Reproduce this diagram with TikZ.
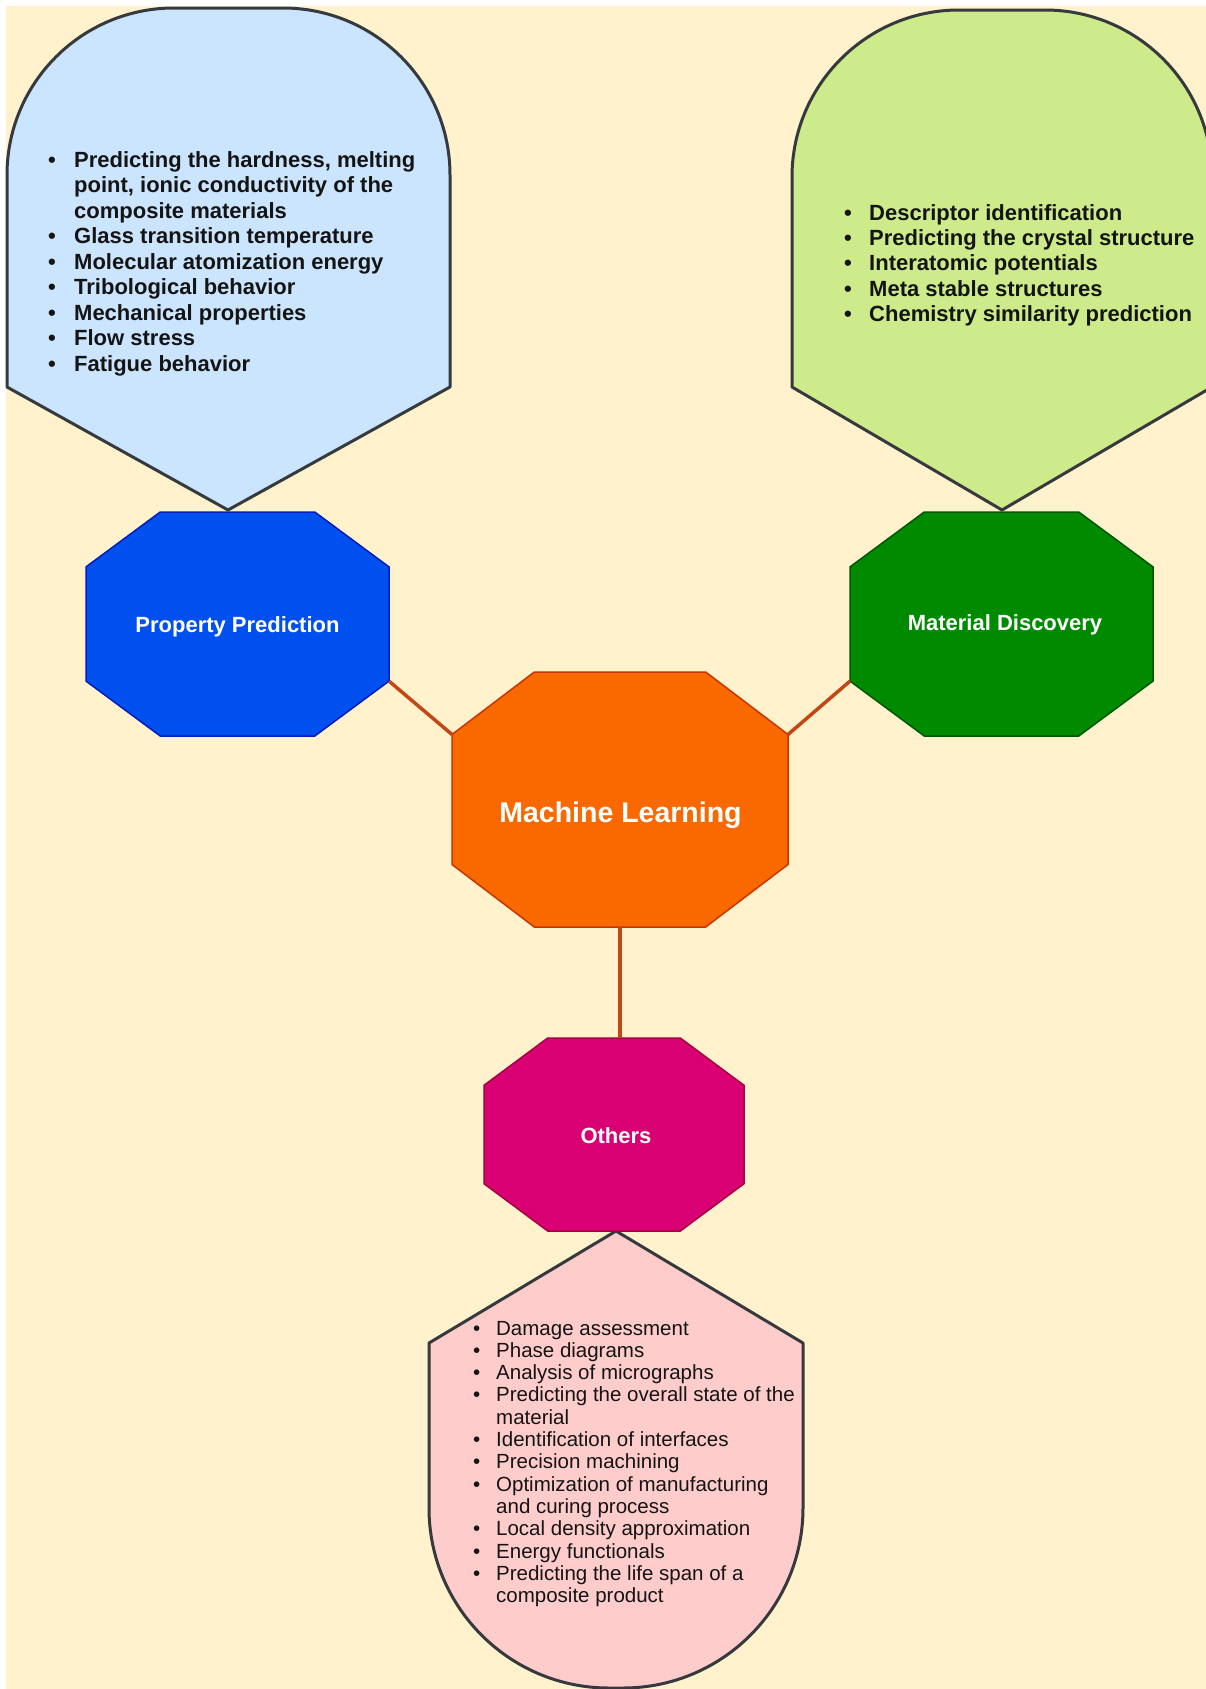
\documentclass[tikz,border=0pt]{standalone}
\usepackage{fontspec}
\setmainfont{Liberation Sans}
\usetikzlibrary{calc}

\definecolor{bgcream}{HTML}{FFF2CC}
\definecolor{calloutline}{HTML}{36393D}
\definecolor{bluefill}{HTML}{CCE5FF}
\definecolor{greenfill}{HTML}{CDEB8B}
\definecolor{pinkfill}{HTML}{FFCCCC}
\definecolor{ppfill}{HTML}{0050EF}
\definecolor{ppline}{HTML}{001DBC}
\definecolor{mdfill}{HTML}{008A00}
\definecolor{mdline}{HTML}{005700}
\definecolor{mlfill}{HTML}{FA6800}
\definecolor{mlline}{HTML}{C73500}
\definecolor{otfill}{HTML}{D80073}
\definecolor{otline}{HTML}{A50040}
\definecolor{linkcol}{HTML}{C24714}
\definecolor{listink}{HTML}{141414}

% bullet and hanging indent for the item lists
\newcommand\listbullet[1]{\makebox[#1][l]{\textbullet}}
\newcommand\listindent[1]{\hspace*{#1}}

% octagon: name, centre x, centre y, width, height, style
\newcommand\octagonbox[6]{%
  \path[#6]
    ({#2-0.255*#4},{#3-0.5*#5}) -- ({#2+0.255*#4},{#3-0.5*#5}) --
    ({#2+0.5*#4},{#3-0.255*#5}) -- ({#2+0.5*#4},{#3+0.255*#5}) --
    ({#2+0.255*#4},{#3+0.5*#5}) -- ({#2-0.255*#4},{#3+0.5*#5}) --
    ({#2-0.5*#4},{#3+0.255*#5}) -- ({#2-0.5*#4},{#3-0.255*#5}) -- cycle;
  \node[minimum width=#4pt, minimum height=#5pt, inner sep=0pt, outer sep=0pt] (#1) at (#2,#3) {};
}

\tikzset{
  callout/.style={draw=calloutline, line width=3pt, line join=round},
  octolabel/.style={anchor=base, inner sep=0pt, text=white, font=\bfseries},
  listnode/.style={anchor=base west, inner sep=0pt, text=listink},
  link/.style={draw=linkcol, line width=3.5pt},
}

\begin{document}
\begin{tikzpicture}[x=1pt,y=-1pt]
  \useasboundingbox (0,0) rectangle (1206,1689);
  \clip (0,0) rectangle (1206,1689);
  \fill[white] (0,0) rectangle (1206,1689);
  \fill[bgcream] (6,6) rectangle (1206,1689);

  % callout shapes (rounded ends drawn as quarter-circle curves)
  \path[callout, fill=bluefill] (228,510) -- (7,387) -- (7,175)
    .. controls (7,82.8) and (81.8,8) .. (174,8) -- (283,8)
    .. controls (375.2,8) and (450,82.8) .. (450,175) -- (450,387) -- cycle;
  \path[callout, fill=greenfill] (1002,510) -- (792,387) -- (792,177)
    .. controls (792,84.8) and (866.8,10) .. (959,10) -- (1045,10)
    .. controls (1137.2,10) and (1212,84.8) .. (1212,177) -- (1212,387) -- cycle;
  \path[callout, fill=pinkfill] (616,1231) -- (803,1343) -- (803,1508)
    .. controls (803,1607.4) and (722.4,1688) .. (623,1688) -- (609,1688)
    .. controls (509.6,1688) and (429,1607.4) .. (429,1508) -- (429,1343) -- cycle;

  % octagons
  \octagonbox{pp}{237.5}{624}{303}{224}{fill=ppfill, draw=ppline, line width=1.5pt}
  \octagonbox{md}{1001.5}{624}{303}{224}{fill=mdfill, draw=mdline, line width=1.5pt}
  \octagonbox{ml}{620}{799.5}{336}{255}{fill=mlfill, draw=mlline, line width=1.5pt}
  \octagonbox{ot}{614}{1134.5}{260}{193}{fill=otfill, draw=otline, line width=1.5pt}

  % connectors
  \draw[link] ($(pp.east)!0.51!(pp.south east)$) -- ($(ml.west)!0.51!(ml.north west)$);
  \draw[link] ($(md.west)!0.51!(md.south west)$) -- ($(ml.east)!0.51!(ml.north east)$);
  \draw[link] (ml.south) -- (ml.south |- ot.north);

  % octagon labels
  \node[octolabel, font=\fontsize{22}{26}\selectfont\bfseries] (pp-text) at (237.5,632.7) {Property Prediction};
  \node[octolabel, font=\fontsize{22}{26}\selectfont\bfseries] (md-text) at (1005,630.7) {Material Discovery};
  \node[octolabel, font=\fontsize{28.5}{32}\selectfont\bfseries] (ml-text) at (620.5,822.7) {Machine Learning};
  \node[octolabel, font=\fontsize{22}{26}\selectfont\bfseries] (ot-text) at (616,1143) {Others};

  % item lists
  \node[listnode] (pp-list) at (48,167) {\parbox[t]{430pt}{\fontsize{22}{25.5}\selectfont\bfseries
    \listbullet{26pt}Predicting the hardness, melting\\
    \listindent{26pt}point, ionic conductivity of the\\
    \listindent{26pt}composite materials\\
    \listbullet{26pt}Glass transition temperature\\
    \listbullet{26pt}Molecular atomization energy\\
    \listbullet{26pt}Tribological behavior\\
    \listbullet{26pt}Mechanical properties\\
    \listbullet{26pt}Flow stress\\
    \listbullet{26pt}Fatigue behavior}};

  \node[listnode] (md-list) at (844,220) {\parbox[t]{430pt}{\fontsize{22}{25.4}\selectfont\bfseries
    \listbullet{25pt}Descriptor identification\\
    \listbullet{25pt}Predicting the crystal structure\\
    \listbullet{25pt}Interatomic potentials\\
    \listbullet{25pt}Meta stable structures\\
    \listbullet{25pt}Chemistry similarity prediction}};

  \node[listnode] (ot-list) at (473,1335) {\parbox[t]{400pt}{\fontsize{20.5}{22.3}\selectfont
    \listbullet{23pt}Damage assessment\\
    \listbullet{23pt}Phase diagrams\\
    \listbullet{23pt}Analysis of micrographs\\
    \listbullet{23pt}Predicting the overall state of the\\
    \listindent{23pt}material\\
    \listbullet{23pt}Identification of interfaces\\
    \listbullet{23pt}Precision machining\\
    \listbullet{23pt}Optimization of manufacturing\\
    \listindent{23pt}and curing process\\
    \listbullet{23pt}Local density approximation\\
    \listbullet{23pt}Energy functionals\\
    \listbullet{23pt}Predicting the life span of a\\
    \listindent{23pt}composite product}};
\end{tikzpicture}
\end{document}
